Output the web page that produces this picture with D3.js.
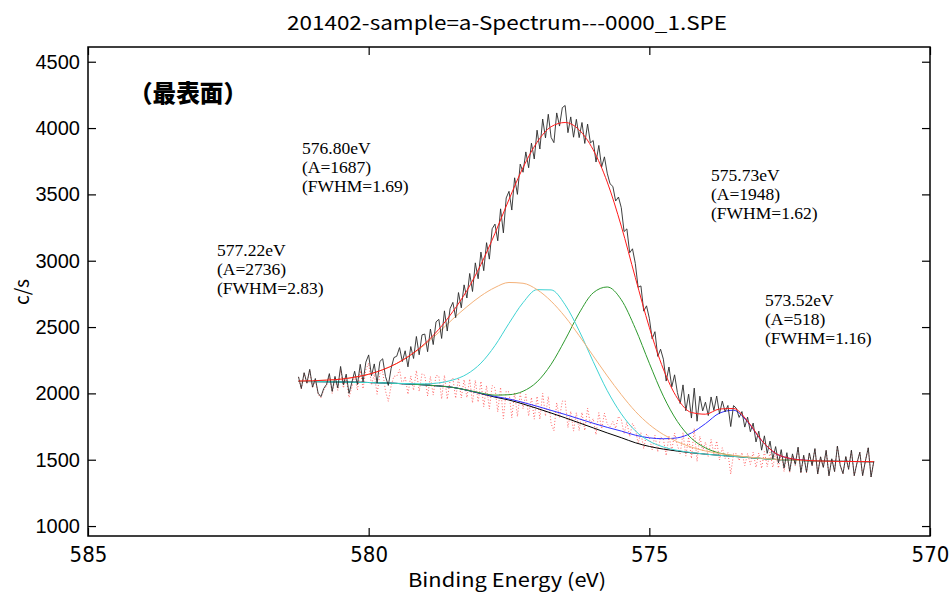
<!DOCTYPE html>
<html>
<head>
<meta charset="utf-8">
<script src="https://cdn.jsdelivr.net/npm/d3@7"></script>
<style>
  body { margin: 0; background: #fff; }
  .tick text { fill: #000; }
</style>
</head>
<body>
<svg id="chart" width="949" height="593"></svg>
<script>
// Binding energy grid of the fitted curves (eV)
const energy = [581.25, 581.0, 580.75, 580.5, 580.25, 580.0, 579.75, 579.5, 579.25, 579.0,
  578.75, 578.5, 578.25, 578.0, 577.75, 577.5, 577.25, 577.0, 576.75, 576.5,
  576.25, 576.0, 575.75, 575.5, 575.25, 575.0, 574.75, 574.5, 574.25, 574.0,
  573.75, 573.5, 573.25, 573.0, 572.75, 572.5, 572.25, 572.0, 571.75, 571.5,
  571.25, 571.0];

// Shirley background
const background = [2090, 2089, 2088, 2086, 2084, 2082, 2079, 2075, 2070, 2064,
  2056, 2045, 2024, 1998, 1972, 1950, 1920, 1887, 1852, 1816,
  1778, 1740, 1702, 1666, 1628, 1600, 1580, 1565, 1552, 1542,
  1533, 1525, 1517, 1509, 1502, 1497, 1493, 1490, 1488, 1487,
  1486, 1485];

// Fitted components (drawn on top of the background)
const peak57722 = [2093, 2095, 2100, 2107, 2122, 2144, 2178, 2225, 2288, 2367,
  2460, 2561, 2653, 2735, 2798, 2836, 2830, 2782, 2695, 2577,
  2435, 2283, 2132, 1991, 1865, 1765, 1690, 1635, 1595, 1566,
  1547, 1532, 1521, 1511, 1503, 1497, 1493, 1490, 1488, 1487,
  1486, 1485];
const peak57680 = [2090, 2089, 2088, 2086, 2084, 2082, 2079, 2076, 2073, 2072,
  2079, 2101, 2145, 2228, 2360, 2528, 2684, 2782, 2780, 2668,
  2472, 2240, 2021, 1846, 1718, 1640, 1596, 1570, 1554, 1542,
  1533, 1525, 1517, 1509, 1502, 1497, 1493, 1490, 1488, 1487,
  1486, 1485];
const peak57573 = [2090, 2089, 2088, 2086, 2084, 2082, 2079, 2075, 2070, 2064,
  2056, 2045, 2025, 2003, 1987, 1990, 2016, 2087, 2219, 2404,
  2605, 2758, 2802, 2706, 2490, 2227, 1979, 1788, 1661, 1589,
  1550, 1531, 1519, 1509, 1502, 1497, 1493, 1490, 1488, 1487,
  1486, 1485];
const peak57352 = [2090, 2089, 2088, 2086, 2084, 2082, 2079, 2075, 2070, 2064,
  2056, 2045, 2024, 2000, 1977, 1958, 1932, 1903, 1872, 1841,
  1808, 1775, 1744, 1716, 1685, 1665, 1658, 1665, 1702, 1772,
  1851, 1873, 1785, 1644, 1547, 1510, 1497, 1491, 1488, 1487,
  1486, 1485];

// Sum of all components
const envelope = [2093, 2095, 2100, 2107, 2122, 2144, 2178, 2226, 2291, 2375,
  2483, 2617, 2775, 2972, 3206, 3462, 3702, 3893, 4010, 4042,
  3986, 3836, 3593, 3261, 2874, 2497, 2183, 1963, 1856, 1843,
  1882, 1886, 1791, 1646, 1548, 1510, 1497, 1491, 1488, 1487,
  1486, 1485];

// Measured spectrum, 581.25 eV down to 571.00 eV in 0.05 eV steps
const rawStart = 581.25, rawStep = 0.05;
const rawCounts = [
  2125, 2037, 2156, 2078, 2181, 2047, 2112, 2001, 1975, 2037,
  2068, 2149, 2015, 2128, 2042, 2203, 2065, 2145, 2000, 2081,
  2167, 2067, 2219, 2087, 2236, 2290, 2133, 2222, 2078, 2241,
  2261, 2127, 2060, 2188, 2270, 2280, 2345, 2240, 2321, 2200,
  2353, 2263, 2429, 2291, 2441, 2447, 2314, 2485, 2368, 2539,
  2558, 2414, 2622, 2470, 2638, 2686, 2571, 2760, 2645, 2818,
  2719, 2904, 2768, 2984, 2864, 3065, 2925, 3136, 3012, 3241,
  3276, 3150, 3391, 3210, 3473, 3523, 3382, 3625, 3500, 3728,
  3667, 3820, 3701, 3886, 3767, 3984, 3842, 4068, 3926, 4104,
  3930, 3890, 4114, 4015, 4154, 4170, 3965, 4084, 3931, 4066,
  3928, 4042, 3884, 4030, 3888, 3906, 3744, 3869, 3706, 3783,
  3660, 3580, 3560, 3450, 3480, 3400, 3220, 3240, 3060, 3090,
  2980, 2800, 2810, 2620, 2660, 2566, 2412, 2465, 2279, 2333,
  2258, 2093, 2199, 2049, 2140, 2006, 1923, 2064, 1869, 1994,
  1814, 2040, 1790, 1979, 1868, 1934, 1833, 1973, 1872, 1980,
  1847, 1942, 1862, 1909, 1750, 1908, 1888, 1819, 1863, 1746,
  1821, 1711, 1776, 1634, 1715, 1572, 1680, 1548, 1640, 1507,
  1599, 1476, 1576, 1437, 1553, 1414, 1544, 1465, 1595, 1404,
  1534, 1406, 1551, 1456, 1584, 1393, 1522, 1442, 1571, 1379,
  1507, 1411, 1603, 1459, 1395, 1524, 1428, 1572, 1380, 1476,
  1556, 1380, 1492, 1590, 1370, 1490];

const xTicks = [585, 580, 575, 570];
const yTicks = [1000, 1500, 2000, 2500, 3000, 3500, 4000, 4500];

const peakNotes = [
  ["576.80eV", "(A=1687)", "(FWHM=1.69)"],
  ["577.22eV", "(A=2736)", "(FWHM=2.83)"],
  ["575.73eV", "(A=1948)", "(FWHM=1.62)"],
  ["573.52eV", "(A=518)", "(FWHM=1.16)"]
];

// Layout
const margin = { top: 47, right: 19, bottom: 57, left: 88 };
const W = 949, H = 593;
const width = W - margin.left - margin.right;
const height = H - margin.top - margin.bottom;

const svg = d3.select("#chart");
const g = svg.append("g")
  .attr("transform", "translate(" + margin.left + "," + margin.top + ")");

const x = d3.scaleLinear().domain([585, 570]).range([0, width]);
const y = d3.scaleLinear().domain([925, 4611]).range([height, 0]);

// residual = raw - fit, shown around the background
const rawEnergy = rawCounts.map((d, i) => rawStart - i * rawStep);
const envAt = d3.scaleLinear().domain(energy).range(envelope);
const bgAt = d3.scaleLinear().domain(energy).range(background);
const residual = rawCounts.map((d, i) => d - envAt(rawEnergy[i]) + bgAt(rawEnergy[i]));

const smooth = d3.line()
  .x((d, i) => x(energy[i]))
  .y(d => y(d))
  .curve(d3.curveMonotoneX);
const jagged = d3.line()
  .x((d, i) => x(rawEnergy[i]))
  .y(d => y(d));

const plot = g.append("g");

plot.append("path")
  .attr("d", jagged(residual))
  .attr("fill", "none")
  .attr("stroke", "#ff6464")
  .attr("stroke-width", 1)
  .attr("stroke-dasharray", "1 2");

const curves = [
  { v: background, c: "#000000" },
  { v: peak57352, c: "#3030ff" },
  { v: peak57573, c: "#2e9a2e" },
  { v: peak57680, c: "#3fd3d3" },
  { v: peak57722, c: "#f4b27a" }
];
curves.forEach(cv => {
  plot.append("path")
    .attr("d", smooth(cv.v))
    .attr("fill", "none")
    .attr("stroke", cv.c)
    .attr("stroke-width", 1);
});

plot.append("path")
  .attr("d", jagged(rawCounts))
  .attr("fill", "none")
  .attr("stroke", "#2a2a2a")
  .attr("stroke-width", 0.9);

plot.append("path")
  .attr("d", smooth(envelope))
  .attr("fill", "none")
  .attr("stroke", "#ff1a1a")
  .attr("stroke-width", 1);

// Axes with inward ticks
const bottomAxis = g.append("g")
  .attr("transform", "translate(0," + height + ")")
  .call(d3.axisBottom(x).tickValues(xTicks).tickSize(-8).tickSizeOuter(0).tickPadding(10).tickFormat(d3.format("d")));
bottomAxis.selectAll("text")
  .style("font-family", "'Liberation Sans Narrow', 'DejaVu Sans Condensed', 'Liberation Sans', sans-serif")
  .style("font-size", "22px");

const leftAxis = g.append("g")
  .call(d3.axisLeft(y).tickValues(yTicks).tickSize(-8).tickSizeOuter(0).tickPadding(8).tickFormat(d3.format("d")));
leftAxis.selectAll("text")
  .style("font-family", "'Liberation Sans', Arial, sans-serif")
  .style("font-size", "20px");

g.append("g")
  .call(d3.axisTop(x).tickValues(xTicks).tickSize(-8).tickSizeOuter(0).tickFormat(""));
g.append("g")
  .attr("transform", "translate(" + width + ",0)")
  .call(d3.axisRight(y).tickValues(yTicks).tickSize(-8).tickSizeOuter(0).tickFormat(""));

g.selectAll(".domain").remove();
g.selectAll(".tick line").attr("stroke", "#000").attr("stroke-width", 1.2);

g.append("rect")
  .attr("width", width)
  .attr("height", height)
  .attr("fill", "none")
  .attr("stroke", "#000")
  .attr("stroke-width", 1.5);

// Titles
const gothic = "'Noto Sans CJK JP', 'DejaVu Sans', sans-serif";
svg.append("text")
  .attr("x", 507).attr("y", 30)
  .attr("text-anchor", "middle")
  .attr("textLength", 440).attr("lengthAdjust", "spacingAndGlyphs")
  .style("font-family", gothic).style("font-size", "19px")
  .text("201402-sample=a-Spectrum---0000_1.SPE");

svg.append("text")
  .attr("x", 507).attr("y", 587)
  .attr("text-anchor", "middle")
  .attr("textLength", 198).attr("lengthAdjust", "spacingAndGlyphs")
  .style("font-family", gothic).style("font-size", "19px")
  .text("Binding Energy (eV)");

svg.append("text")
  .attr("transform", "translate(29,292) rotate(-90)")
  .attr("text-anchor", "middle")
  .style("font-family", gothic).style("font-size", "19px")
  .text("c/s");

svg.append("text")
  .attr("x", 129).attr("y", 102)
  .attr("textLength", 118).attr("lengthAdjust", "spacingAndGlyphs")
  .style("font-family", "'Noto Sans CJK JP', sans-serif")
  .style("font-size", "24px").style("font-weight", "900")
  .text("（最表面）");

// Peak notes
const noteAt = [[302, 154], [217, 256], [711, 181], [765, 306]];
peakNotes.forEach((lines, k) => {
  const t = svg.append("text")
    .style("font-family", "'Liberation Serif', 'Times New Roman', serif")
    .style("font-size", "17.5px");
  lines.forEach((s, j) => {
    t.append("tspan")
      .attr("x", noteAt[k][0])
      .attr("y", noteAt[k][1] + j * 19)
      .text(s);
  });
});
</script>
</body>
</html>
